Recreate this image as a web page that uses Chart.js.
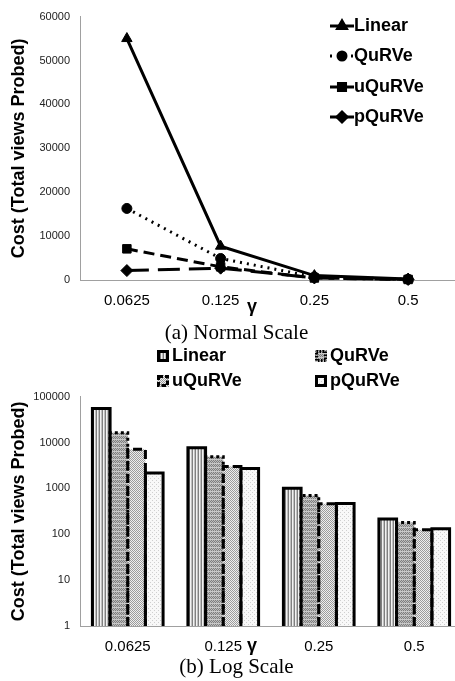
<!DOCTYPE html>
<html>
<head>
<meta charset="utf-8">
<script src="https://cdn.jsdelivr.net/npm/chart.js@4.4.1/dist/chart.umd.min.js"></script>
<style>
  body { margin: 0; width: 455px; height: 681px; overflow: hidden; background: #fff; position: relative;
         font-family: "Liberation Sans", Arial, sans-serif; }
  .wrap { position: absolute; left: 0; }
  .cap { position: absolute; left: 9px; width: 455px; text-align: center; line-height: 24px;
         font-family: "Liberation Serif", "Times New Roman", serif; font-size: 21px; color: #000; }
  .gamma { position: absolute; left: 247px; font-weight: bold; font-size: 18px; line-height: 20px; }
  .leg { position: absolute; font-weight: bold; font-size: 18px; line-height: 20px; white-space: nowrap; }
  .leg canvas { vertical-align: middle; }
</style>
</head>
<body>
<div class="wrap" style="top:0;width:462px;height:320px"><canvas id="normalChart"></canvas></div>
<div class="wrap" style="top:380px;width:462px;height:286px"><canvas id="logChart"></canvas></div>
<div class="gamma" style="top:296px">γ</div>
<div class="gamma" style="top:635px">γ</div>
<div class="cap" style="top:320px">(a) Normal Scale</div>
<div class="cap" style="top:654px">(b) Log Scale</div>
<div id="legendTop"></div>
<div id="legendBottom"></div>
<script>
const categories = ["0.0625", "0.125", "0.25", "0.5"];
const seriesNames = ["Linear", "QuRVe", "uQuRVe", "pQuRVe"];
const linearCost = [55000, 7700, 1000, 215];
const qurveCost = [16300, 4900, 700, 180];
const uqurveCost = [7100, 3000, 460, 125];
const pqurveCost = [2150, 2700, 465, 132];
const normalTicks = [0, 10000, 20000, 30000, 40000, 50000, 60000];
const logTicks = [1, 10, 100, 1000, 10000, 100000];

const allCosts = [linearCost, qurveCost, uqurveCost, pqurveCost];
const axisTitle = "Cost (Total views Probed)";
const sansFont = "'Liberation Sans', Arial, sans-serif";

// line look for the top chart
const lineDash = [[], [2, 5], [11, 6], [22, 9]];
const pointStyles = ["triangle", "circle", "rect", "rectRot"];
const pointRadius = [6, 5, 6, 6];

// bar look for the bottom chart
const barKinds = ["stripes", "dense", "checker", "dots"];
const barDash = [[], [3, 3], [9, 4], []];

function makePattern(kind) {
  const c = document.createElement("canvas");
  const g = c.getContext("2d");
  if (kind === "stripes") {
    c.width = 3; c.height = 1;
    g.fillStyle = "#f2f2f2"; g.fillRect(0, 0, 3, 1);
    g.fillStyle = "#808080"; g.fillRect(0, 0, 1, 1);
    g.fillStyle = "#c0c0c0"; g.fillRect(2, 0, 1, 1);
  } else if (kind === "dense") {
    c.width = 4; c.height = 4;
    for (let y = 0; y < 4; y++) {
      for (let x = 0; x < 4; x++) {
        g.fillStyle = y === 3 ? "#c8c8c8" : ((x + y) % 2 ? "#7e7e7e" : "#bcbcbc");
        g.fillRect(x, y, 1, 1);
      }
    }
  } else if (kind === "checker") {
    c.width = 2; c.height = 2;
    g.fillStyle = "#eeeeee"; g.fillRect(0, 0, 2, 2);
    g.fillStyle = "#9c9c9c"; g.fillRect(0, 0, 1, 1); g.fillRect(1, 1, 1, 1);
  } else {
    c.width = 4; c.height = 4;
    g.fillStyle = "#f8f8f8"; g.fillRect(0, 0, 4, 4);
    g.fillStyle = "#cfcfcf"; g.fillRect(0, 0, 1, 1); g.fillRect(2, 2, 1, 1);
  }
  return g.createPattern(c, "repeat");
}

const barBorders = {
  id: "barBorders",
  afterDatasetsDraw(chart) {
    const ctx = chart.ctx;
    chart.data.datasets.forEach((ds, i) => {
      const meta = chart.getDatasetMeta(i);
      ctx.save();
      ctx.strokeStyle = "#000";
      ctx.lineWidth = 3;
      ctx.setLineDash(barDash[i]);
      meta.data.forEach((bar) => {
        const p = bar.getProps(["x", "y", "base", "width"], true);
        const l = p.x - p.width / 2;
        const r = p.x + p.width / 2;
        ctx.beginPath();
        ctx.moveTo(l, p.base);
        ctx.lineTo(l, p.y);
        ctx.lineTo(r, p.y);
        ctx.lineTo(r, p.base);
        ctx.stroke();
      });
      ctx.restore();
    });
  },
};

function yAxis(ticks, extra) {
  return Object.assign({
    afterFit: (s) => { s.width = 80; },
    afterBuildTicks: (s) => { s.ticks = ticks.map((v) => ({ value: v })); },
    border: { color: "#a0a0a0", width: 1 },
    grid: { display: false, drawTicks: false },
    ticks: { padding: 10, color: "#222", font: { family: sansFont, size: 11 }, callback: (v) => String(v) },
    title: {
      display: true, text: axisTitle, color: "#000",
      padding: { top: 8, bottom: 0 },
      font: { family: sansFont, size: 18, weight: "bold" },
    },
  }, extra);
}

function xAxis() {
  return {
    offset: true,
    afterFit: (s) => { s.height = 40; },
    border: { color: "#a0a0a0", width: 1 },
    grid: { display: false, drawTicks: false },
    ticks: { padding: 12, color: "#000", maxRotation: 0, font: { family: sansFont, size: 15 } },
  };
}

function createNormalChart() {
  const ctx = document.getElementById("normalChart");
  return new Chart(ctx, {
    type: "line",
    data: {
      labels: categories,
      datasets: seriesNames.map((name, i) => ({
        label: name,
        data: allCosts[i],
        borderColor: "#000",
        backgroundColor: "#000",
        borderWidth: 3,
        borderDash: lineDash[i],
        pointStyle: pointStyles[i],
        pointRadius: pointRadius[i],
        pointBorderWidth: 1,
        tension: 0,
        clip: false,
      })),
    },
    options: {
      responsive: true,
      maintainAspectRatio: false,
      animation: false,
      layout: { padding: { top: 12, left: 0, right: 0, bottom: 0 } },
      plugins: { legend: { display: false }, tooltip: { enabled: false } },
      scales: {
        x: xAxis(),
        y: yAxis(normalTicks, { min: 0, max: 60000 }),
      },
    },
  });
}

function createLogChart() {
  const ctx = document.getElementById("logChart");
  return new Chart(ctx, {
    type: "bar",
    data: {
      labels: categories,
      datasets: seriesNames.map((name, i) => ({
        label: name,
        data: allCosts[i],
        backgroundColor: makePattern(barKinds[i]),
        borderWidth: 0,
        categoryPercentage: 0.74,
        barPercentage: 1,
      })),
    },
    plugins: [barBorders],
    options: {
      responsive: true,
      maintainAspectRatio: false,
      animation: false,
      layout: { padding: { top: 14, left: 0, right: 0, bottom: 0 } },
      plugins: { legend: { display: false }, tooltip: { enabled: false } },
      scales: {
        x: xAxis(),
        y: yAxis(logTicks, { type: "logarithmic", min: 1, max: 100000 }),
      },
    },
  });
}

function buildLegends() {
  const top = document.getElementById("legendTop");
  const topRows = [25, 55, 86, 116];
  seriesNames.forEach((name, i) => {
    const item = document.createElement("div");
    item.className = "leg";
    item.style.left = "330px";
    item.style.top = (topRows[i] - 10) + "px";
    const c = document.createElement("canvas");
    c.width = 24; c.height = 20;
    const g = c.getContext("2d");
    g.strokeStyle = "#000"; g.fillStyle = "#000"; g.lineWidth = 3;
    g.setLineDash(i === 1 ? [2, 5] : []);
    g.beginPath(); g.moveTo(0, 10); g.lineTo(24, 10); g.stroke();
    g.setLineDash([]);
    Chart.helpers.drawPoint(g, { pointStyle: pointStyles[i], radius: pointRadius[i] - 1, rotation: 0, borderWidth: 1 }, 12, 10);
    g.fill();
    item.appendChild(c);
    item.appendChild(document.createTextNode(name));
    top.appendChild(item);
  });

  const bottom = document.getElementById("legendBottom");
  const cols = [157, 315];
  const rows = [355, 380];
  seriesNames.forEach((name, i) => {
    const item = document.createElement("div");
    item.className = "leg";
    item.style.left = cols[i % 2] + "px";
    item.style.top = (rows[Math.floor(i / 2)] - 10) + "px";
    const c = document.createElement("canvas");
    c.width = 12; c.height = 12;
    c.style.marginRight = "3px";
    const g = c.getContext("2d");
    g.fillStyle = makePattern(barKinds[i]);
    g.fillRect(0, 0, 12, 12);
    g.strokeStyle = "#000"; g.lineWidth = 3;
    g.setLineDash(barDash[i].map((d) => Math.max(1, d / 2)));
    g.strokeRect(1.5, 1.5, 9, 9);
    item.appendChild(c);
    item.appendChild(document.createTextNode(name));
    bottom.appendChild(item);
  });
}

createNormalChart();
createLogChart();
buildLegends();
</script>
</body>
</html>
